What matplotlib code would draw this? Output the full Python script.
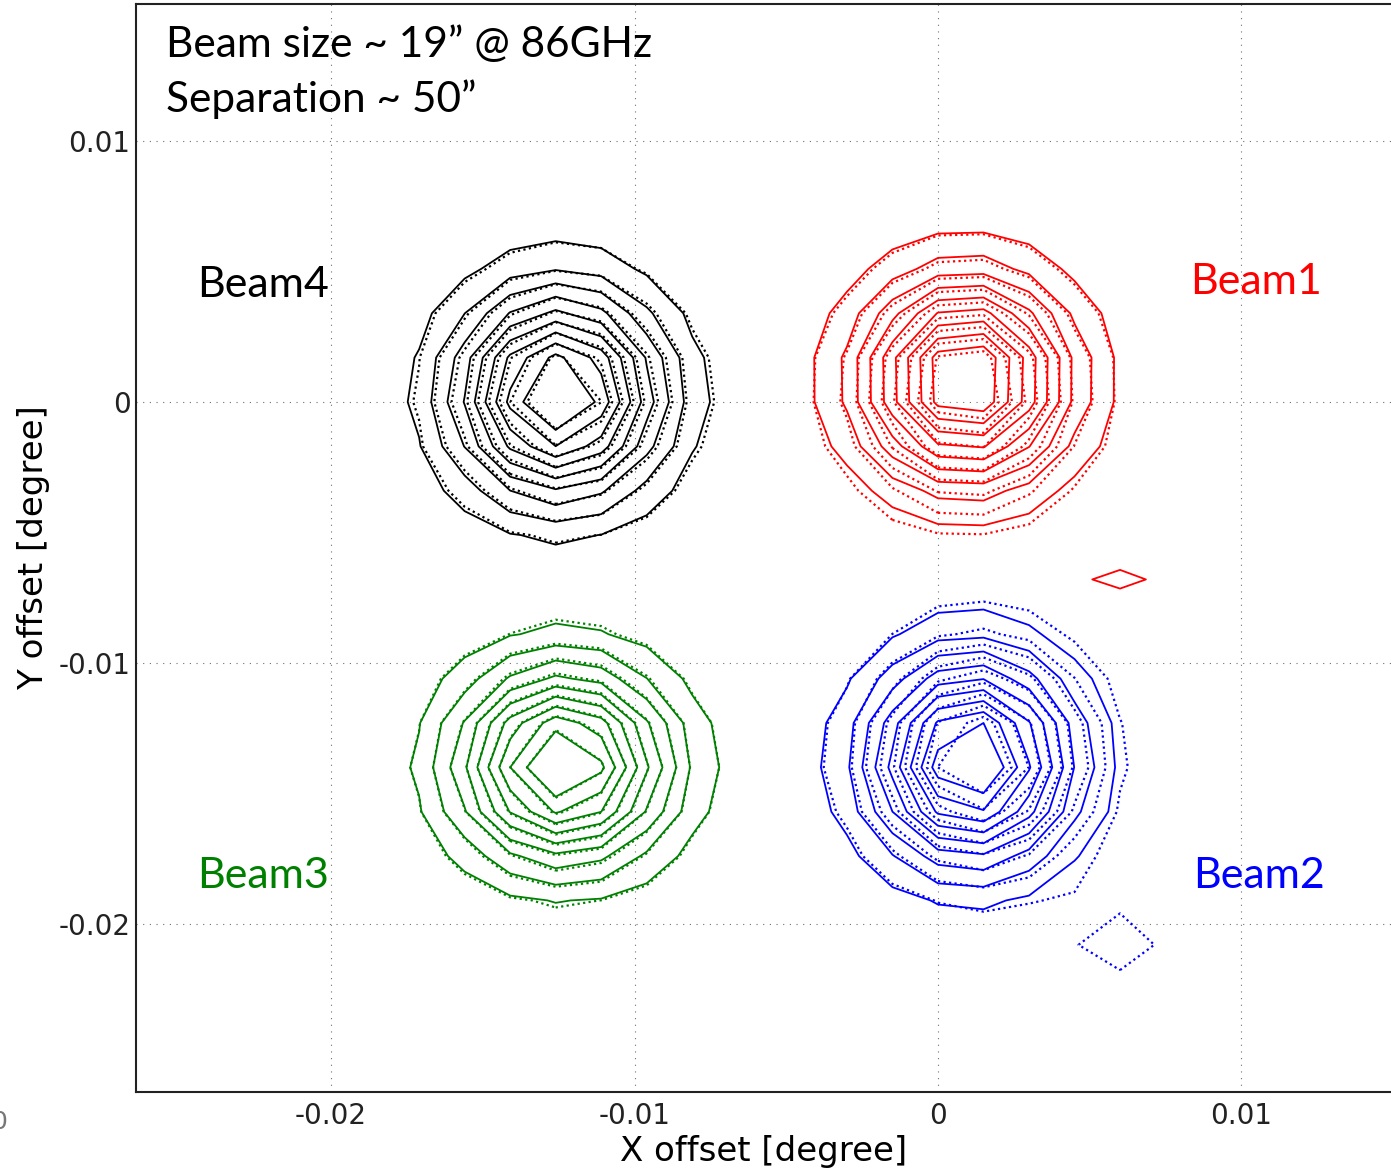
import matplotlib
matplotlib.use("Agg")
import matplotlib.pyplot as plt
import numpy as np

# beam map parameters (degrees)
beam_names = ["Beam1", "Beam2", "Beam3", "Beam4"]
grid_x0 = [0.0, 0.0, -0.0126, -0.0126]      # scan centre of each map
grid_y0 = [0.0, -0.0140, -0.0140, 0.0]
step_x = 0.0015
step_y = 0.0017
n_half = 8
peak = 1.08

# solid contours
solid_cx = [0.0009, 0.00105, -0.01235, -0.01252]
solid_cy = [0.0009, -0.01375, -0.0139, 0.0003]
solid_sx = [0.00222, 0.00215, 0.00226, 0.00221]
solid_sy = [0.00251, 0.00256, 0.00241, 0.00258]

# dotted contours
dotted_cx = [0.0009, 0.0013, -0.01235, -0.0124]
dotted_cy = [0.0006, -0.0136, -0.0139, 0.0003]
dotted_sx = [0.00222, 0.00223, 0.00226, 0.00221]
dotted_sy = [0.00261, 0.00264, 0.00246, 0.00256]

# small side-lobe blips
blip_beam = ["Beam1", "Beam2"]
blip_kind = ["solid", "dotted"]
blip_x = [0.006, 0.006]
blip_y = [-0.0068, -0.0208]
blip_amp = [0.12, 0.135]
blip_sx = [0.00178, 0.0016]
blip_sy = [0.0009, 0.0015]

levels = [0.1, 0.2, 0.3, 0.4, 0.5, 0.6, 0.7, 0.8, 0.9]

colors = {"Beam1": "#ff0000", "Beam2": "#0000ff", "Beam3": "#008000", "Beam4": "#000000"}
label_pos = {"Beam1": (0.0083, 0.00413), "Beam2": (0.00840, -0.01862),
             "Beam3": (-0.02441, -0.01862), "Beam4": (-0.02441, 0.00402)}

ticks = [-0.02, -0.01, 0, 0.01]
tick_labels = ["-0.02", "-0.01", "0", "0.01"]


def beam_map(i, cx, cy, sx, sy, kind):
    gx = grid_x0[i] + step_x * np.arange(-n_half, n_half + 1)
    gy = grid_y0[i] + step_y * np.arange(-n_half, n_half + 1)
    X, Y = np.meshgrid(gx, gy)
    Z = peak * np.exp(-0.5 * (((X - cx) / sx) ** 2 + ((Y - cy) / sy) ** 2))
    for b, k, bx, by, a, bsx, bsy in zip(blip_beam, blip_kind, blip_x, blip_y,
                                          blip_amp, blip_sx, blip_sy):
        if b == beam_names[i] and k == kind:
            Z = Z + a * np.exp(-0.5 * (((X - bx) / bsx) ** 2 + ((Y - by) / bsy) ** 2))
    return X, Y, Z


plt.rcParams["lines.dotted_pattern"] = [1.0, 1.5]

fig = plt.figure(figsize=(13.91, 11.68), dpi=100)
ax = fig.add_axes([136 / 1391, 76 / 1168, 1255 / 1391, 1088 / 1168])

for i, name in enumerate(beam_names):
    c = colors[name]
    X, Y, Z = beam_map(i, solid_cx[i], solid_cy[i], solid_sx[i], solid_sy[i], "solid")
    ax.contour(X, Y, Z, levels=levels, colors=c, linewidths=1.3, linestyles="solid")
    X, Y, Z = beam_map(i, dotted_cx[i], dotted_cy[i], dotted_sx[i], dotted_sy[i], "dotted")
    ax.contour(X, Y, Z, levels=levels, colors=c, linewidths=1.6, linestyles="dotted")
    lx, ly = label_pos[name]
    ax.text(lx, ly, name, color=c, fontsize=31, family="Lato", va="baseline", ha="left")

ax.text(0.0239, 0.9513, "Beam size ~ 19\u201d @ 86GHz", transform=ax.transAxes,
        fontsize=30.5, family="Lato", va="baseline")
ax.text(0.0239, 0.9007, "Separation ~ 50\u201d", transform=ax.transAxes,
        fontsize=30.5, family="Lato", va="baseline")

ax.set_xlim(-0.02643, 0.01493)
ax.set_ylim(-0.02644, 0.01525)
ax.set_xticks(ticks)
ax.set_xticklabels(tick_labels)
ax.set_yticks(ticks)
ax.set_yticklabels(tick_labels)
ax.tick_params(axis="both", length=0, labelsize=20, colors="#222222")
ax.tick_params(axis="x", pad=7)
ax.tick_params(axis="y", pad=4)
ax.grid(True, linestyle=(0, (1, 5)), color="#707070", linewidth=0.8)

for s in ["left", "bottom", "top"]:
    ax.spines[s].set_linewidth(1.5)
    ax.spines[s].set_color("#222222")
ax.spines["right"].set_visible(False)

ax.set_xlabel("X offset [degree]", fontsize=24.5, labelpad=4)
ax.set_ylabel("Y offset [degree]", fontsize=24.5, labelpad=6)

fig.text(-0.006, 1 - 1122 / 1168, "0", fontsize=18, color="#777777", va="center")

fig.savefig("out.png", dpi=100)
